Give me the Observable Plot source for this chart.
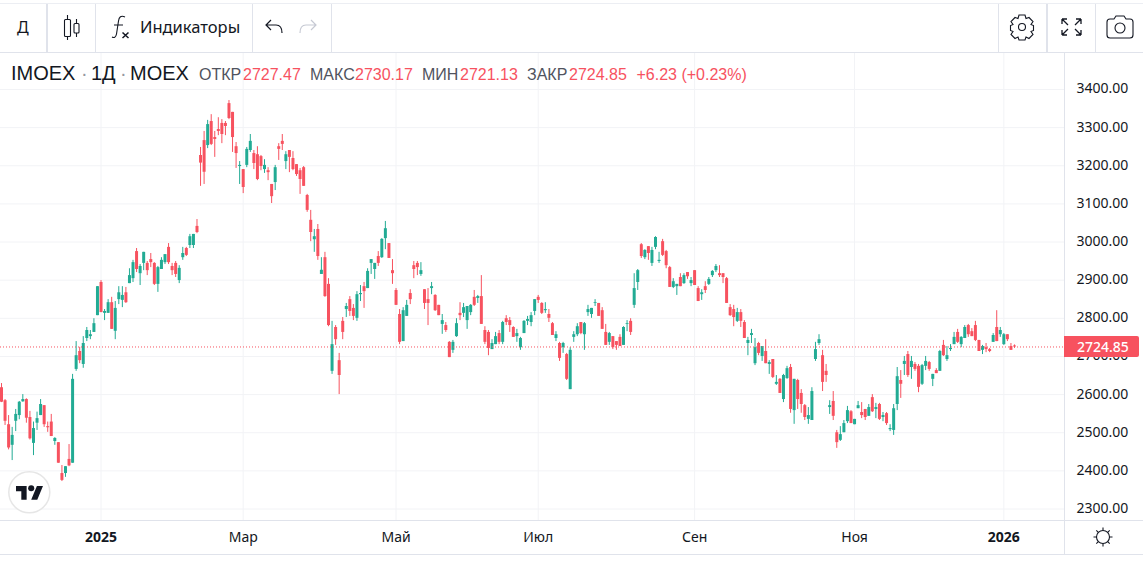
<!DOCTYPE html>
<html lang="ru">
<head>
<meta charset="utf-8">
<script src="https://cdn.jsdelivr.net/npm/d3@7"></script>
<script src="https://cdn.jsdelivr.net/npm/@observablehq/plot@0.6"></script>
<style>
html,body{margin:0;padding:0;background:#fff;overflow:hidden}
#page{position:relative;width:1146px;height:561px;overflow:hidden;font-family:"Liberation Sans",sans-serif;color:#131722}
#chart{position:absolute;left:0;top:53px}
.ln{position:absolute;background:#e0e3eb}
.t{position:absolute;white-space:nowrap}
.lg{position:absolute;white-space:nowrap;font-family:"Liberation Sans",sans-serif;top:66px;font-size:16px;line-height:18px}
.lab{color:#50535e}.val{color:#f7525f}
.main{font-size:20px;top:62px;line-height:23px;color:#131722}
svg.ic{position:absolute;overflow:visible}
</style>
</head>
<body>
<div id="page">
<div id="chart"></div>

<div class="ln" style="left:0;top:3px;width:1143px;height:1px;background:#eceef3"></div>
<div class="ln" style="left:0;top:52px;width:1143px;height:1px"></div>
<div class="ln" style="left:46px;top:4px;width:2px;height:48px"></div>
<div class="ln" style="left:95px;top:4px;width:1px;height:48px"></div>
<div class="ln" style="left:252px;top:4px;width:1px;height:48px"></div>
<div class="ln" style="left:331px;top:4px;width:1px;height:48px"></div>
<div class="ln" style="left:998px;top:4px;width:1px;height:48px"></div>
<div class="ln" style="left:1046px;top:4px;width:2px;height:48px"></div>
<div class="ln" style="left:1095px;top:4px;width:1px;height:48px"></div>
<div class="ln" style="left:0;top:520px;width:1143px;height:1px"></div>
<div class="ln" style="left:0;top:554px;width:1143px;height:1px"></div>
<div class="ln" style="left:1064px;top:53px;width:1px;height:501px"></div>

<div class="t" style="left:17px;top:17px;font:16px/20px 'Noto Sans'">Д</div>
<div class="t" style="left:140px;top:16px;font:16.500px/22px 'Noto Sans'">Индикаторы</div>

<svg class="ic" style="left:0;top:0" width="1146" height="53" fill="none" stroke="#131722" stroke-width="1.1">
  <path d="M67.5 15v4M67.5 36v4M76.5 19v4M76.5 33v4"/>
  <rect x="64.5" y="19.5" width="6" height="17" rx="1"/>
  <rect x="74" y="23.5" width="5" height="9.5" rx="1"/>
  <path d="M125 17c-4-2-6 0-6.500 4l-2 13c-.6 3.500-2.500 4-4.500 3M114 25h9"/>
  <path d="M122.500 32.500l6 5.500M128.500 32.500l-6 5.500" stroke-width="1.5"/>
  <path d="M271 20l-5 5 5 5M266 25h10c4 0 6 3 6 8" stroke-width="1.2"/>
  <path d="M311 20l5 5-5 5M316 25h-10c-4 0-6 3-6 8" stroke="#c6c9d3" stroke-width="1.2"/>
  <circle cx="1022" cy="27" r="3.500"/>
  <path d="M1019 15h6l1 3.500 3-1 4 4-2 3 2.500 1v5l-2.500 1 2 3-4 4-3-1.500-1 3h-6l-1-3-3 1.500-4-4 2-3-2.500-1v-5l2.500-1-2-3 4-4 3 1z"/>
  <path d="M1062 19l6 6M1062 19h5M1062 19v5M1081 19l-6 6M1081 19h-5M1081 19v5M1062 35l6-6M1062 35h5M1062 35v-5M1081 35l-6-6M1081 35h-5M1081 35v-5" stroke-width="1.3"/>
  <path d="M1107 22c0-2 1-3 3-3h4l2-3h8l2 3h4c2 0 3 1 3 3v13c0 2-1 3-3 3h-20c-2 0-3-1-3-3z"/>
  <circle cx="1120" cy="28" r="5"/>
</svg>

<span class="lg main" style="left:11px">IMOEX</span>
<span class="lg main" style="left:81px;color:#9598a1">·</span>
<span class="lg main" style="left:91px">1Д</span>
<span class="lg main" style="left:120px;color:#9598a1">·</span>
<span class="lg main" style="left:130px">MOEX</span>
<span class="lg lab" style="left:199px">ОТКР</span><span class="lg val" style="left:243px">2727.47</span>
<span class="lg lab" style="left:310px">МАКС</span><span class="lg val" style="left:355px">2730.17</span>
<span class="lg lab" style="left:422px">МИН</span><span class="lg val" style="left:460px">2721.13</span>
<span class="lg lab" style="left:527px">ЗАКР</span><span class="lg val" style="left:569px">2724.85</span>
<span class="lg val" style="left:636.500px">+6.23 (+0.23%)</span>

<svg class="ic" style="left:8px;top:471px" width="43" height="43">
  <circle cx="21.300" cy="21.300" r="20.500" fill="#fff" stroke="#e6e6e6" stroke-width="1.500"/>
  <g transform="translate(8,12) scale(.76)" fill="#131722">
    <path d="M14 22H7V11H0V4h14v18zM28 22h-8l7.500-18h8L28 22z"/><circle cx="20" cy="7" r="4"/>
  </g>
</svg>

<svg class="ic" style="left:1092px;top:526px" width="22" height="22" fill="none" stroke="#131722" stroke-width="1.1">
  <circle cx="11" cy="11" r="6.500"/>
  <path d="M11 1.500v3M11 17.500v3M1.500 11h3M17.500 11h3M4.300 4.300l2 2M15.700 15.700l2 2M17.700 4.300l-2 2M6.300 15.700l-2 2"/>
</svg>

<div id="tag" class="t" style="left:1064px;width:62px;padding-left:13px;height:21px;background:#f7525f;color:#fff;border-radius:0 2px 2px 0;font:500 14px/21px 'Noto Sans'"></div>
</div>

<script>
const opens = [
2618,2584,2521,2467,2530,2545,2581,2587,2540,2472,
2525,2545,2571,2516,2528,2477,2474,2393,2393,2430,
2420,2666,2713,2679,2747,2752,2763,2807,2894,2813,
2813,2841,2766,2849,2847,2867,2891,2904,2975,2917,
2944,2944,2954,2944,2889,2928,2946,2986,2936,2944,
2899,2959,2983,2991,2991,3041,3227,3266,3253,3316,
3274,3295,3311,3311,3363,3340,3250,3198,3190,3201,
3240,3232,3229,3224,3190,3187,3151,3156,3250,3264,
3211,3240,3219,3203,3187,3195,3122,3057,3006,3033,
2915,2959,2889,2661,2776,2689,2792,2823,2849,2826,
2800,2862,2883,2878,2944,2928,2962,2959,3009,2996,
2925,2873,2810,2739,2805,2865,2938,2944,2915,2875,
2849,2878,2860,2834,2784,2781,2737,2716,2752,2813,
2813,2794,2815,2855,2852,2857,2768,2763,2718,2731,
2760,2737,2799,2794,2776,2752,2723,2760,2792,2789,
2818,2855,2839,2820,2810,2786,2747,2734,2723,2705,
2613,2750,2757,2789,2757,2815,2810,2839,2839,2820,
2763,2737,2752,2739,2750,2729,2784,2792,2834,2894,
2993,2959,2988,2944,2986,2949,3001,2975,2933,2881,
2883,2907,2891,2920,2891,2925,2878,2862,2883,2889,
2912,2925,2917,2917,2904,2828,2823,2792,2815,2789,
2734,2755,2681,2734,2700,2713,2679,2692,2627,2640,
2587,2642,2671,2558,2637,2603,2571,2535,2532,2692,
2734,2702,2661,2566,2582,2500,2480,2500,2529,2555,
2521,2563,2553,2561,2543,2592,2561,2574,2540,2550,
2508,2506,2574,2637,2679,2705,2671,2679,2674,2627,
2674,2684,2640,2663,2661,2729,2692,2718,2731,2763,
2731,2747,2781,2765,2781,2742,2716,2723,2718,2737,
2776,2757,2731,2757,2726,2727.47];

const closes = [
2580,2530,2460,2493,2548,2580,2587,2538,2484,2511,
2537,2574,2521,2513,2490,2485,2420,2375,2411,2413,
2640,2702,2689,2734,2768,2757,2786,2883,2815,2818,
2841,2771,2826,2867,2860,2841,2912,2946,2928,2936,
2973,2925,2946,2889,2933,2952,2967,2946,2925,2915,
2931,2970,2965,3014,3020,3025,3207,3183,3308,3256,
3269,3290,3282,3303,3324,3274,3232,3201,3143,3243,
3264,3206,3164,3198,3201,3182,3119,3195,3243,3256,
3229,3222,3190,3177,3164,3146,3083,3025,3014,2962,
2926,2857,2781,2731,2744,2650,2763,2831,2818,2805,
2862,2865,2870,2923,2954,2944,2944,3007,3035,2957,
2917,2834,2737,2820,2834,2849,2928,2933,2925,2839,
2839,2883,2820,2807,2794,2768,2697,2737,2786,2807,
2828,2831,2834,2834,2857,2784,2737,2721,2734,2752,
2737,2789,2789,2781,2750,2760,2747,2792,2797,2807,
2849,2847,2813,2823,2800,2755,2757,2695,2734,2640,
2716,2757,2778,2760,2786,2823,2826,2841,2805,2771,
2729,2760,2723,2729,2726,2776,2786,2763,2878,2925,
2962,2978,2970,2978,3012,2952,2965,2938,2881,2896,
2889,2883,2912,2909,2899,2886,2844,2867,2873,2902,
2923,2936,2912,2907,2839,2807,2802,2815,2792,2747,
2742,2760,2723,2708,2726,2681,2684,2645,2632,2603,
2650,2668,2561,2640,2587,2574,2540,2545,2608,2718,
2744,2632,2650,2571,2543,2474,2495,2524,2558,2524,
2535,2571,2545,2540,2566,2555,2566,2535,2545,2524,
2511,2563,2647,2627,2687,2650,2687,2666,2619,2676,
2687,2666,2653,2655,2713,2702,2702,2721,2750,2737,
2750,2776,2757,2752,2742,2713,2726,2718,2713,2755,
2739,2768,2757,2744,2716,2724.85];

const highs = [
2629,2587,2545,2514,2561,2582,2600,2589,2556,2528,
2554,2587,2571,2528,2548,2487,2474,2414,2411,2469,
2653,2739,2724,2752,2776,2768,2799,2883,2899,2823,
2849,2855,2844,2883,2883,2881,2930,2952,2983,2941,
2973,2949,2970,2946,2936,2959,2967,2996,2944,2949,
2938,2986,2986,3020,3020,3059,3248,3290,3319,3334,
3290,3326,3321,3316,3371,3340,3261,3211,3190,3248,
3282,3240,3250,3227,3216,3195,3151,3201,3258,3282,
3237,3240,3237,3203,3193,3198,3125,3083,3033,3046,
2959,2973,2904,2792,2781,2708,2802,2839,2857,2836,
2870,2886,2894,2930,2954,2944,2975,3009,3054,2996,
2954,2878,2823,2828,2847,2875,2949,2949,2946,2875,
2878,2894,2862,2834,2810,2789,2739,2742,2799,2841,
2839,2831,2836,2873,2860,2912,2778,2768,2744,2763,
2768,2792,2807,2802,2778,2771,2750,2794,2805,2815,
2849,2860,2841,2841,2823,2789,2765,2737,2737,2708,
2723,2765,2786,2789,2789,2834,2826,2849,2839,2828,
2784,2763,2752,2739,2757,2778,2794,2799,2917,2928,
2996,2980,2988,2986,3014,2973,3007,2978,2936,2904,
2889,2917,2917,2920,2907,2925,2883,2875,2896,2907,
2925,2941,2938,2917,2907,2836,2834,2826,2823,2794,
2750,2771,2747,2737,2726,2744,2689,2692,2650,2642,
2653,2674,2679,2640,2640,2613,2574,2566,2618,2737,
2757,2716,2679,2584,2608,2506,2516,2532,2569,2558,
2535,2582,2579,2561,2574,2600,2577,2577,2553,2553,
2521,2574,2671,2663,2700,2713,2700,2684,2679,2679,
2700,2687,2653,2668,2716,2742,2726,2731,2763,2771,
2752,2781,2784,2773,2792,2742,2729,2734,2721,2760,
2820,2776,2760,2757,2734,2730.17];

const lows = [
2579,2519,2455,2427,2503,2534,2580,2525,2481,2440,
2506,2545,2514,2501,2490,2467,2420,2372,2383,2411,
2420,2661,2681,2669,2739,2744,2763,2807,2815,2794,
2813,2771,2744,2836,2828,2839,2891,2894,2920,2886,
2925,2912,2933,2886,2868,2928,2941,2941,2912,2907,
2891,2952,2962,2983,2983,3022,3146,3151,3245,3253,
3222,3279,3258,3279,3321,3235,3193,3151,3127,3195,
3235,3190,3161,3187,3180,3161,3101,3135,3214,3240,
3190,3182,3187,3172,3125,3146,3078,3001,2973,2952,
2915,2855,2778,2653,2729,2600,2744,2802,2805,2794,
2792,2844,2826,2878,2915,2902,2936,2957,2980,2957,
2889,2834,2731,2739,2805,2836,2904,2912,2910,2823,
2781,2862,2818,2807,2758,2763,2697,2708,2750,2794,
2802,2771,2807,2831,2839,2784,2731,2702,2718,2731,
2731,2731,2781,2763,2750,2737,2716,2760,2781,2778,
2807,2839,2810,2813,2789,2755,2739,2687,2708,2637,
2613,2737,2752,2757,2716,2805,2800,2831,2805,2771,
2729,2729,2718,2716,2726,2729,2765,2755,2826,2873,
2957,2954,2952,2936,2980,2944,2962,2930,2881,2878,
2860,2883,2889,2902,2883,2886,2844,2847,2865,2886,
2907,2920,2907,2891,2839,2805,2778,2789,2776,2747,
2702,2734,2676,2702,2687,2681,2653,2642,2624,2603,
2579,2640,2551,2522,2561,2551,2532,2522,2532,2687,
2729,2608,2632,2548,2532,2459,2477,2500,2524,2524,
2521,2563,2537,2532,2543,2553,2537,2532,2529,2519,
2503,2493,2558,2590,2650,2645,2640,2661,2605,2624,
2663,2661,2621,2655,2661,2700,2687,2713,2731,2734,
2723,2747,2750,2752,2739,2713,2705,2710,2710,2737,
2739,2750,2729,2739,2716,2721.13];

const priceTicks = [2300,2400,2500,2600,2700,2800,2900,3000,3100,3200,3300,3400];
const monthBars = [68,111,151,195,240];
const monthLabels = ["Мар","Май","Июл","Сен","Ноя"];
const yearBars = [28,282];
const yearLabels = ["2025","2026"];
const lastPrice = 2724.85;

const UP = "#22ab94", DOWN = "#f7525f", GRID = "#f2f3f6", INK = "#131722";
const bars = d3.range(opens.length);
const upBars = bars.filter(i => closes[i] >= opens[i]);
const downBars = bars.filter(i => closes[i] < opens[i]);

function candles(subset, color) {
  return [
    Plot.ruleX(subset, {x: i => i, y1: i => lows[i], y2: i => highs[i], stroke: color, strokeWidth: 1}),
    Plot.ruleX(subset, {x: i => i, y1: i => opens[i], y2: i => closes[i], stroke: color, strokeWidth: 3})
  ];
}

const plot = Plot.plot({
  width: 1146,
  height: 502,
  marginLeft: 0,
  marginRight: 82,
  marginTop: 0,
  marginBottom: 35,
  style: {fontFamily: "'Noto Sans'", fontSize: "14px", color: INK, background: "transparent"},
  x: {type: "linear", domain: [0, opens.length - 1], range: [1, 1014]},
  y: {type: "linear", domain: [2300, 3400], range: [455.5, 36]},
  marks: [
    Plot.ruleY(priceTicks, {stroke: GRID}),
    Plot.ruleX(monthBars.concat(yearBars), {stroke: GRID}),
    ...candles(upBars, UP),
    ...candles(downBars, DOWN),
    Plot.ruleY([lastPrice], {stroke: DOWN, strokeDasharray: "1,2"}),
    Plot.axisY(priceTicks, {anchor: "right", tickSize: 0, tickPadding: 12, textAnchor: "start", tickFormat: d3.format(".2f"), label: null, fontSize: 14, dy: -0.5}),
    Plot.axisX(monthBars, {anchor: "bottom", tickSize: 0, tickPadding: 12, tickFormat: i => monthLabels[monthBars.indexOf(i)], label: null, fontSize: 14}),
    Plot.axisX(yearBars, {anchor: "bottom", tickSize: 0, tickPadding: 12, tickFormat: i => yearLabels[yearBars.indexOf(i)], label: null, fontSize: 14, fontWeight: 700})
  ]
});
document.getElementById("chart").appendChild(plot);

const tag = document.getElementById("tag");
tag.textContent = lastPrice.toFixed(2);
tag.style.top = (53 + plot.scale("y").apply(lastPrice) - 10.5) + "px";
</script>
</body>
</html>
